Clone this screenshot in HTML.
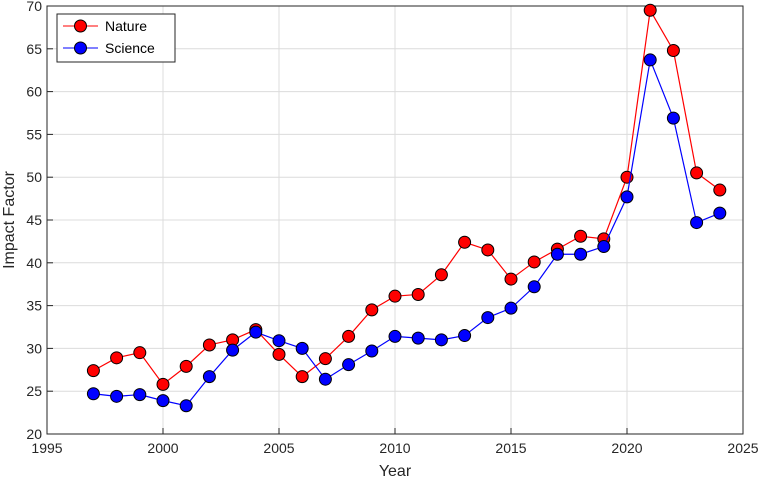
<!DOCTYPE html>
<html><head><meta charset="utf-8"><style>
body{margin:0;background:#fff;font-family:"Liberation Sans",sans-serif;}
svg text{font-family:"Liberation Sans",sans-serif;}
</style></head><body>
<svg id="chart" width="763" height="480" xmlns="http://www.w3.org/2000/svg">
<g id="grid"></g>
<g id="axes"></g>
<g id="series"></g>
<text x="395" y="476" font-size="16" text-anchor="middle" fill="#262626">Year</text>
<text x="14" y="220" font-size="16" text-anchor="middle" fill="#262626" transform="rotate(-90 14 220)">Impact Factor</text>
<g>
<rect x="57" y="14" width="118" height="48" fill="#fff" stroke="#262626" stroke-width="1"/>
<g>
<line x1="63" y1="26" x2="98" y2="26" stroke="#ff0000" stroke-width="1"/>
<circle cx="80.5" cy="26" r="6" fill="#ff0000" stroke="#000"/>
<text x="105" y="31" font-size="14" fill="#000">Nature</text></g>
<g>
<line x1="63" y1="48" x2="98" y2="48" stroke="#0000ff" stroke-width="1"/>
<circle cx="80.5" cy="48" r="6" fill="#0000ff" stroke="#000"/>
<text x="105" y="53" font-size="14" fill="#000">Science</text></g>
</g>
</svg>
<script>
const years=[1997,1998,1999,2000,2001,2002,2003,2004,2005,2006,2007,2008,2009,2010,2011,2012,2013,2014,2015,2016,2017,2018,2019,2020,2021,2022,2023,2024];
const nature=[27.4,28.9,29.5,25.8,27.9,30.4,31.0,32.2,29.3,26.7,28.8,31.4,34.5,36.1,36.3,38.6,42.4,41.5,38.1,40.1,41.6,43.1,42.8,50.0,69.5,64.8,50.5,48.5];
const science=[24.7,24.4,24.6,23.9,23.3,26.7,29.8,31.9,30.9,30.0,26.4,28.1,29.7,31.4,31.2,31.0,31.5,33.6,34.7,37.2,41.0,41.0,41.9,47.7,63.7,56.9,44.7,45.8];
const xTicks=[1995,2000,2005,2010,2015,2020,2025];
const yTicks=[20,25,30,35,40,45,50,55,60,65,70];
const L=47,R=743,T=6,B=434;
const X=v=>L+(v-1995)/30*(R-L);
const Y=v=>B-(v-20)/50*(B-T);
const NS="http://www.w3.org/2000/svg";
function mk(tag,attrs,parent){const e=document.createElementNS(NS,tag);for(const k in attrs)e.setAttribute(k,attrs[k]);parent.appendChild(e);return e;}
const grid=document.getElementById('grid'),axes=document.getElementById('axes'),series=document.getElementById('series');
xTicks.forEach(t=>{
 const g=mk('line',{x1:X(t),x2:X(t),y1:T,y2:B,stroke:'#dcdcdc','stroke-width':1},grid);
 
 
 const tk=mk('line',{x1:X(t),x2:X(t),y1:B,y2:B-6,stroke:'#262626'},axes);
 
 
 const tx=mk('text',{x:X(t),y:B+19,'font-size':14,'text-anchor':'middle',fill:'#262626'},axes);
 tx.textContent=t;
 
 
});
yTicks.forEach(t=>{
 const g=mk('line',{x1:L,x2:R,y1:Y(t),y2:Y(t),stroke:'#dcdcdc','stroke-width':1},grid);
 
 
 const tk=mk('line',{x1:L,x2:L+6,y1:Y(t),y2:Y(t),stroke:'#262626'},axes);
 
 
 const tx=mk('text',{x:L-5,y:Y(t)+5,'font-size':14,'text-anchor':'end',fill:'#262626'},axes);
 tx.textContent=t;
 
 
});
const box=mk('rect',{x:L,y:T,width:R-L,height:B-T,fill:'none',stroke:'#262626','stroke-width':1},axes);


function draw(vals,color,name){
 const pl=mk('polyline',{points:vals.map((v,i)=>X(years[i])+','+Y(v)).join(' '),fill:'none',stroke:color,'stroke-width':1.2},series);
 
 
 vals.forEach((v,i)=>{
  const c=mk('circle',{cx:X(years[i]),cy:Y(v),r:6,fill:color,stroke:'#000','stroke-width':1},series);
  
  
 });
}
draw(nature,'#ff0000','nature');
draw(science,'#0000ff','science');
</script>
</body></html>
